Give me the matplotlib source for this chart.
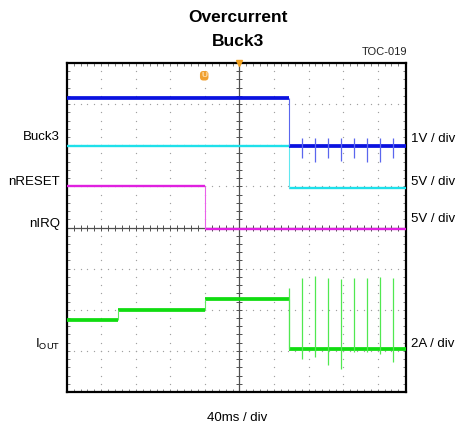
import numpy as np
import matplotlib
matplotlib.use('Agg')
import matplotlib.pyplot as plt

plt.rcParams['font.family'] = ['Liberation Sans', 'DejaVu Sans']

# Scope screen values, in divisions
# (x: 0 = left edge of graticule, y: 0 = bottom of graticule)
fb_t = [0.0, 6.42, 9.82]          # dark blue trace
fb_lvl = [7.15, 5.97]
buck3_t = [0.0, 6.42, 9.82]       # cyan trace
buck3_lvl = [5.99, 4.97]
nreset_t = [0.0, 4.01, 9.82]      # magenta trace
nreset_lvl = [5.00, 3.96]
iout_t = [0.0, 1.49, 4.01, 6.42, 9.82]   # green trace
iout_lvl = [1.75, 2.00, 2.25, 1.04]

# hiccup retry spikes after the overcurrent event
spike_t = [6.81, 7.18, 7.57, 7.94, 8.31, 8.70, 9.06, 9.45]
iout_spike_top = [2.78, 2.82, 2.78, 2.75, 2.78, 2.76, 2.80, 2.78]
iout_spike_bot = [0.80, 0.84, 0.66, 0.56, 0.97, 0.97, 0.92, 0.72]
iout_edge_top = 2.54
fb_spike_top = [6.17, 6.18, 6.17, 6.18, 6.17, 6.18, 6.17, 6.18]
fb_spike_bot = [5.69, 5.60, 5.69, 5.62, 5.69, 5.60, 5.60, 5.69]

left_labels = ['Buck3', 'nRESET', 'nIRQ', r'I$\mathregular{_{OUT}}$']
left_label_y = [136.7, 182, 224, 344]
right_labels = ['1V / div', '5V / div', '5V / div', '2A / div']
right_label_y = [139, 182, 219, 344]

W, H = 458, 433
fig = plt.figure(figsize=(W / 100, H / 100), dpi=100)
ax = fig.add_axes([66.7 / W, 1 - 392 / H, (406 - 66.7) / W, (392 - 63) / H])

xmax, ymax = 9.82, 8.0
ax.set_xlim(0, xmax)
ax.set_ylim(0, ymax)

# graticule dots
step = 0.2
for gx in range(1, 10):
    if gx == 5:
        continue
    ys = np.arange(0, ymax + 0.01, step)
    ax.scatter(np.full_like(ys, gx), ys, s=0.9, color='#a0a0a0', lw=0, zorder=1)
for gy in range(1, 8):
    if gy == 4:
        continue
    xs = np.arange(0, xmax, step)
    ax.scatter(xs, np.full_like(xs, gy), s=0.9, color='#a0a0a0', lw=0, zorder=1)

# centre cross with ticks
ax.axhline(4, color='#505050', lw=0.9, zorder=2)
ax.axvline(5, color='#505050', lw=0.9, zorder=2)
xs = np.arange(0, xmax, step)
ax.plot(xs, np.full_like(xs, 4), ls='none', marker='|', ms=4, mew=0.7, color='#505050', zorder=2)
ys = np.arange(0, ymax + 0.01, step)
ax.plot(np.full_like(ys, 5), ys, ls='none', marker='_', ms=4, mew=0.7, color='#505050', zorder=2)

# frame ticks
ax.set_xticks([])
ax.set_yticks([])
ax.set_xticks(np.arange(0, xmax, step), minor=True)
ax.set_yticks(np.arange(0, ymax + 0.01, step), minor=True)
ax.tick_params(which='minor', direction='in', length=2.5, width=0.7, color='#808080',
               top=True, right=True, labelbottom=False, labelleft=False)
for sp in ax.spines.values():
    sp.set_linewidth(1.6)
    sp.set_color('black')


def step_trace(t, lvl, color, edge_color, lw, z):
    ax.hlines(lvl, t[:-1], t[1:], color=color, lw=lw, zorder=z)
    ax.vlines(t[1:-1], lvl[1:], lvl[:-1], color=edge_color, lw=0.8, zorder=z)


step_trace(buck3_t, buck3_lvl, '#1ee0ea', '#60e8f0', 1.7, 3)
step_trace(nreset_t, nreset_lvl, '#e020e0', '#ea60ea', 1.7, 3)
step_trace(iout_t, iout_lvl, '#10dc10', '#60e860', 2.7, 4)
step_trace(fb_t, fb_lvl, '#0a12e0', '#5a66ee', 2.7, 5)

# retry spikes
ax.vlines(spike_t, iout_spike_bot, iout_spike_top, color='#50e850', lw=0.9, zorder=4)
ax.vlines(iout_t[3], iout_lvl[3], iout_edge_top, color='#50e850', lw=0.9, zorder=4)
ax.vlines(spike_t, fb_spike_bot, fb_spike_top, color='#5a66ee', lw=0.9, zorder=5)

# trigger markers
ax.plot([5], [ymax], marker='v', ms=5, color='#f0a020', clip_on=False, zorder=6)
ax.text(3.98, 7.69, 'U', color='#ffe0b0', fontsize=6, fontweight='bold', ha='center', va='center',
        bbox=dict(boxstyle='round,pad=0.15,rounding_size=0.4', fc='#f0a030', ec='none'), zorder=6)

# texts
fig.text(238 / W, 1 - 18 / H, 'Overcurrent', ha='center', va='center', fontsize=12.5, fontweight='bold')
fig.text(238 / W, 1 - 42 / H, 'Buck3', ha='center', va='center', fontsize=12.5, fontweight='bold')
fig.text(407 / W, 1 - 52 / H, 'TOC-019', ha='right', va='center', fontsize=8, color='#222222')
fig.text(237 / W, 1 - 418 / H, '40ms / div', ha='center', va='center', fontsize=9.5)

for lab, y in zip(left_labels, left_label_y):
    fig.text(60 / W, 1 - y / H, lab, ha='right', va='center', fontsize=9.5)
for lab, y in zip(right_labels, right_label_y):
    fig.text(411 / W, 1 - y / H, lab, ha='left', va='center', fontsize=9.5)

fig.savefig('out.png', dpi=100)
